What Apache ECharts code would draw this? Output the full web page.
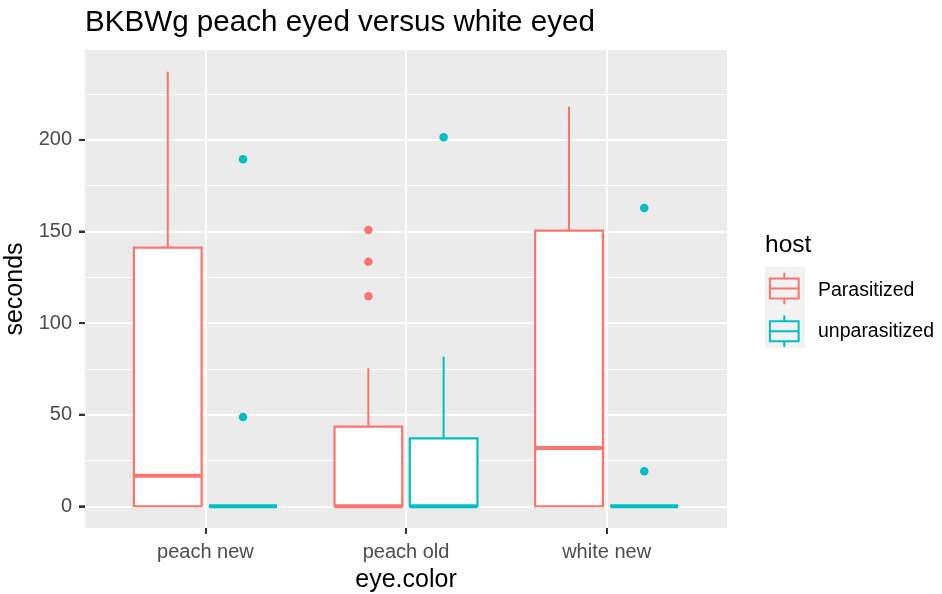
<!DOCTYPE html>
<html>
<head>
<meta charset="utf-8">
<script src="https://cdn.jsdelivr.net/npm/echarts@6/dist/echarts.min.js"></script>
<style>
  html, body { margin: 0; padding: 0; background: #ffffff; }
  #chart { width: 942px; height: 594px; }
</style>
</head>
<body>
<div id="chart"></div>
<script>
// Eye colour groups along the x axis and the two host groups
const categories = ['peach new', 'peach old', 'white new'];
const hosts = ['Parasitized', 'unparasitized'];
const hostColors = ['#F8766D', '#00BFC4'];

// Box summaries per eye colour: [lower whisker, Q1, median, Q3, upper whisker]
const parasitizedStats = [
  [0, 0, 16.7, 141.2, 237.2],
  [0, 0, 0, 43.5, 75.3],
  [0, 0, 31.8, 150.5, 218.1]
];
const unparasitizedStats = [
  [0, 0, 0, 0, 0],
  [0, 0, 0, 37.1, 81.7],
  [0, 0, 0, 0, 0]
];

// Points beyond the whiskers: [eye colour, seconds]
const parasitizedOutliers = [
  ['peach old', 150.8], ['peach old', 133.5], ['peach old', 114.6]
];
const unparasitizedOutliers = [
  ['peach new', 189.4], ['peach new', 48.7],
  ['peach old', 201.4],
  ['white new', 162.8], ['white new', 19.1]
];

// Axis ticks
const yTicks = [0, 50, 100, 150, 200];
const yMinorTicks = [25, 75, 125, 175, 225];
const xTicks = [1, 2, 3];

const FONT = '"Liberation Sans", Arial, Helvetica, sans-serif';
const statsByHost = [parasitizedStats, unparasitizedStats];
const outliersByHost = [parasitizedOutliers, unparasitizedOutliers];

// discrete x scale: groups at 1..3 with 0.6 of padding on each side
const xMin = 0.4, xMax = 3.6;
// dodge: each host sits a quarter-band off the group centre
const dodge = [-0.1875, 0.1875];
const halfBox = 0.16875;

// y range padded 5% on each side of the data range
const dataMax = Math.max(...parasitizedStats.map(s => s[4]), ...unparasitizedStats.map(s => s[4]),
  ...parasitizedOutliers.map(o => o[1]), ...unparasitizedOutliers.map(o => o[1]));
const yPad = dataMax * 0.05;
const yMin = -yPad, yMax = dataMax + yPad;

function boxRenderer(h) {
  const color = hostColors[h];
  return function (params, api) {
    const x = api.value(0) + dodge[h];
    const lo = api.value(1), q1 = api.value(2), med = api.value(3), q3 = api.value(4), hi = api.value(5);
    const topW = api.coord([x, hi]), q3C = api.coord([x, q3]), q1C = api.coord([x, q1]), botW = api.coord([x, lo]);
    const tl = api.coord([x - halfBox, q3]), br = api.coord([x + halfBox, q1]);
    const mL = api.coord([x - halfBox, med]), mR = api.coord([x + halfBox, med]);
    return {
      type: 'group',
      children: [
        { type: 'line', shape: { x1: topW[0], y1: topW[1], x2: q3C[0], y2: q3C[1] }, style: { stroke: color, lineWidth: 2 } },
        { type: 'line', shape: { x1: q1C[0], y1: q1C[1], x2: botW[0], y2: botW[1] }, style: { stroke: color, lineWidth: 2 } },
        { type: 'rect', shape: { x: tl[0], y: tl[1], width: br[0] - tl[0], height: br[1] - tl[1] },
          style: { fill: '#ffffff', stroke: color, lineWidth: 2.2 } },
        { type: 'line', shape: { x1: mL[0], y1: mL[1], x2: mR[0], y2: mR[1] }, style: { stroke: color, lineWidth: 4 } }
      ]
    };
  };
}

const series = [];
hosts.forEach((name, h) => {
  series.push({
    name: name,
    type: 'custom',
    renderItem: boxRenderer(h),
    itemStyle: { color: hostColors[h] },
    encode: { x: 0, y: [1, 2, 3, 4, 5] },
    data: statsByHost[h].map((s, i) => [i + 1].concat(s)),
    z: 2
  });
});
hosts.forEach((name, h) => {
  series.push({
    name: name,
    type: 'scatter',
    symbol: 'circle',
    symbolSize: 8.5,
    itemStyle: { color: hostColors[h], opacity: 1 },
    data: outliersByHost[h].map(o => [categories.indexOf(o[0]) + 1 + dodge[h], o[1]]),
    z: 3
  });
});
// short outward tick marks on the left edge of the panel at the labelled y values
series.push({
  type: 'custom',
  silent: true,
  clip: false,
  z: 10,
  encode: { x: 0, y: 1 },
  data: yTicks.map(v => [xMin, v]),
  renderItem: function (params, api) {
    const p = api.coord([api.value(0), api.value(1)]);
    return { type: 'line', shape: { x1: p[0] - 6, y1: p[1], x2: p[0], y2: p[1] },
      style: { stroke: '#333333', lineWidth: 2 } };
  }
});

const boxIcon = 'path://M16,0L16,6M1,6L31,6L31,27L1,27ZM1,16.5L31,16.5M16,27L16,33';

const chart = echarts.init(document.getElementById('chart'), null, { renderer: 'canvas' });
chart.setOption({
  animation: false,
  backgroundColor: '#ffffff',
  textStyle: { fontFamily: FONT },
  title: [
    { text: 'BKBWg peach eyed versus white eyed', left: 85, top: 8, padding: 0,
      textStyle: { fontFamily: FONT, fontSize: 29.6, fontWeight: 'normal', color: '#000000' } },
    { text: 'host', left: 765, top: 233, padding: 0,
      textStyle: { fontFamily: FONT, fontSize: 24.5, fontWeight: 'normal', color: '#000000' } }
  ],
  legend: [
    // grey key backgrounds
    {
      orient: 'vertical', left: 765, top: 266.7, padding: 0,
      itemWidth: 40, itemHeight: 40.8, itemGap: 0,
      icon: 'rect', selectedMode: false,
      itemStyle: { color: '#F2F2F2', borderWidth: 0 },
      formatter: () => '',
      data: hosts,
      z: 4
    },
    // box glyphs
    {
      orient: 'vertical', left: 768.3, top: 271.7, padding: 0,
      itemWidth: 32, itemHeight: 31.6, itemGap: 9.2,
      selectedMode: false,
      formatter: () => '',
      data: hosts.map((name, h) => ({
        name: name, icon: boxIcon,
        itemStyle: { color: 'transparent', borderColor: hostColors[h], borderWidth: 2 }
      })),
      z: 5
    },
    // labels
    {
      orient: 'vertical', left: 765, top: 270.5, padding: 0,
      itemWidth: 40, itemHeight: 40.8, itemGap: 0,
      icon: 'rect',
      itemStyle: { color: 'transparent', borderWidth: 0 },
      textStyle: { fontFamily: FONT, fontSize: 19.5, color: '#000000', padding: [0, 0, 0, 8] },
      data: hosts,
      z: 6
    }
  ],
  grid: {
    left: 85, right: 215, top: 50, bottom: 66,
    show: true, backgroundColor: '#EBEBEB', borderWidth: 0,
    outerBoundsContain: 'axisLabel'
  },
  xAxis: {
    type: 'value', min: xMin, max: xMax, position: 'bottom',
    name: 'eye.color', nameLocation: 'middle', nameGap: 40,
    nameTextStyle: { fontFamily: FONT, fontSize: 25, color: '#000000' },
    axisLine: { show: false, onZero: false },
    axisTick: { show: true, length: 6, customValues: xTicks, lineStyle: { color: '#333333', width: 2 } },
    axisLabel: { customValues: xTicks, margin: 14, fontFamily: FONT, fontSize: 20, color: '#4D4D4D',
      formatter: v => categories[Math.round(v) - 1] },
    splitLine: { show: true, lineStyle: { color: '#ffffff', width: 2 } }
  },
  yAxis: [
    {
      type: 'value', min: yMin, max: yMax, position: 'left',
      name: 'seconds', nameLocation: 'middle', nameGap: 56, nameRotate: 90,
      nameTextStyle: { fontFamily: FONT, fontSize: 25, color: '#000000' },
      axisLine: { show: false, onZero: false },
      axisTick: { show: true, length: 6, customValues: yTicks, lineStyle: { color: '#333333', width: 2 } },
      axisLabel: { customValues: yTicks, margin: 13, fontFamily: FONT, fontSize: 20, color: '#4D4D4D' },
      splitLine: { show: true, lineStyle: { color: '#ffffff', width: 2 } }
    },
    {
      type: 'value', min: yMin, max: yMax, position: 'right',
      axisLine: { show: false, onZero: false },
      axisTick: { show: false, customValues: yMinorTicks },
      axisLabel: { show: false, customValues: yMinorTicks },
      splitLine: { show: true, lineStyle: { color: '#ffffff', width: 1 } }
    }
  ],
  series: series
});
</script>
</body>
</html>
